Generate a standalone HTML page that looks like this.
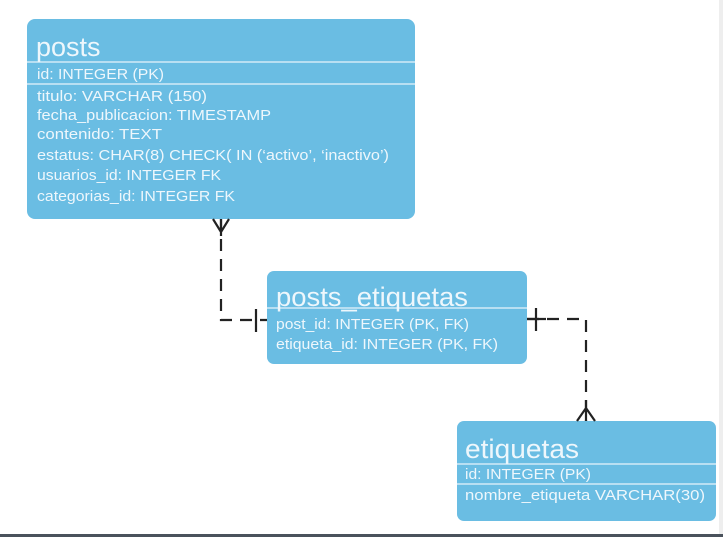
<!DOCTYPE html>
<html><head><meta charset="utf-8"><style>
html,body{margin:0;padding:0;background:#fff;}
svg{display:block}
text{font-family:"Liberation Sans",sans-serif;fill:#eef7fc}
</style></head><body>
<svg width="723" height="537" viewBox="0 0 723 537" xmlns="http://www.w3.org/2000/svg">
<rect width="723" height="537" fill="#ffffff"/>
<rect x="719" y="0" width="4" height="537" fill="#eeeeee"/>
<rect x="0" y="534" width="723" height="3" fill="#4a525c"/>
<!-- posts -->
<rect x="27" y="19" width="388" height="200" rx="8" fill="#6abde3"/>
<line x1="27" y1="62" x2="415" y2="62" stroke="#e6f4fb" stroke-width="1.2"/>
<line x1="27" y1="84" x2="415" y2="84" stroke="#e6f4fb" stroke-width="1.2"/>
<text x="36" y="56" font-size="27">posts</text>
<g font-size="15" lengthAdjust="spacingAndGlyphs">
<text x="37" y="79" textLength="127" lengthAdjust="spacingAndGlyphs">id: INTEGER (PK)</text>
<text x="37" y="101" textLength="170" lengthAdjust="spacingAndGlyphs">titulo: VARCHAR (150)</text>
<text x="37" y="120" textLength="234" lengthAdjust="spacingAndGlyphs">fecha_publicacion: TIMESTAMP</text>
<text x="37" y="139" textLength="125" lengthAdjust="spacingAndGlyphs">contenido:  TEXT</text>
<text x="37" y="160" textLength="352" lengthAdjust="spacingAndGlyphs">estatus: CHAR(8) CHECK( IN (‘activo’, ‘inactivo’)</text>
<text x="37" y="180" textLength="184" lengthAdjust="spacingAndGlyphs">usuarios_id: INTEGER FK</text>
<text x="37" y="201" textLength="198" lengthAdjust="spacingAndGlyphs">categorias_id: INTEGER FK</text>
</g>
<!-- posts_etiquetas -->
<rect x="267" y="271" width="260" height="93" rx="7" fill="#6abde3"/>
<line x1="267" y1="308" x2="527" y2="308" stroke="#e6f4fb" stroke-width="1.2"/>
<text x="276" y="306" font-size="27" textLength="192" lengthAdjust="spacingAndGlyphs">posts_etiquetas</text>
<g font-size="15">
<text x="276" y="329" textLength="193" lengthAdjust="spacingAndGlyphs">post_id: INTEGER (PK, FK)</text>
<text x="276" y="349" textLength="222" lengthAdjust="spacingAndGlyphs">etiqueta_id: INTEGER (PK, FK)</text>
</g>
<!-- etiquetas -->
<rect x="457" y="421" width="259" height="100" rx="7" fill="#6abde3"/>
<line x1="457" y1="464" x2="716" y2="464" stroke="#e6f4fb" stroke-width="1.2"/>
<line x1="457" y1="484" x2="716" y2="484" stroke="#e6f4fb" stroke-width="1.2"/>
<text x="465" y="458" font-size="27" textLength="114" lengthAdjust="spacingAndGlyphs">etiquetas</text>
<g font-size="15">
<text x="465" y="479" textLength="126" lengthAdjust="spacingAndGlyphs">id: INTEGER (PK)</text>
<text x="465" y="500" textLength="240" lengthAdjust="spacingAndGlyphs">nombre_etiqueta VARCHAR(30)</text>
</g>
<!-- connectors -->
<g stroke="#222" stroke-width="2.2" fill="none">
<path d="M221 219 V320 H267" stroke-dasharray="12,8"/>
<path d="M213 219 L221 232 L229 219 M221 219 V236"/>
<line x1="256" y1="309" x2="256" y2="332"/>
<path d="M527 319 H586 V421" stroke-dasharray="12,8"/>
<line x1="536" y1="308" x2="536" y2="331"/>
<line x1="527" y1="319" x2="546" y2="319"/>
<path d="M577 421 L586 408 L595 421 M586 421 V400"/>
</g>
</svg>
</body></html>
